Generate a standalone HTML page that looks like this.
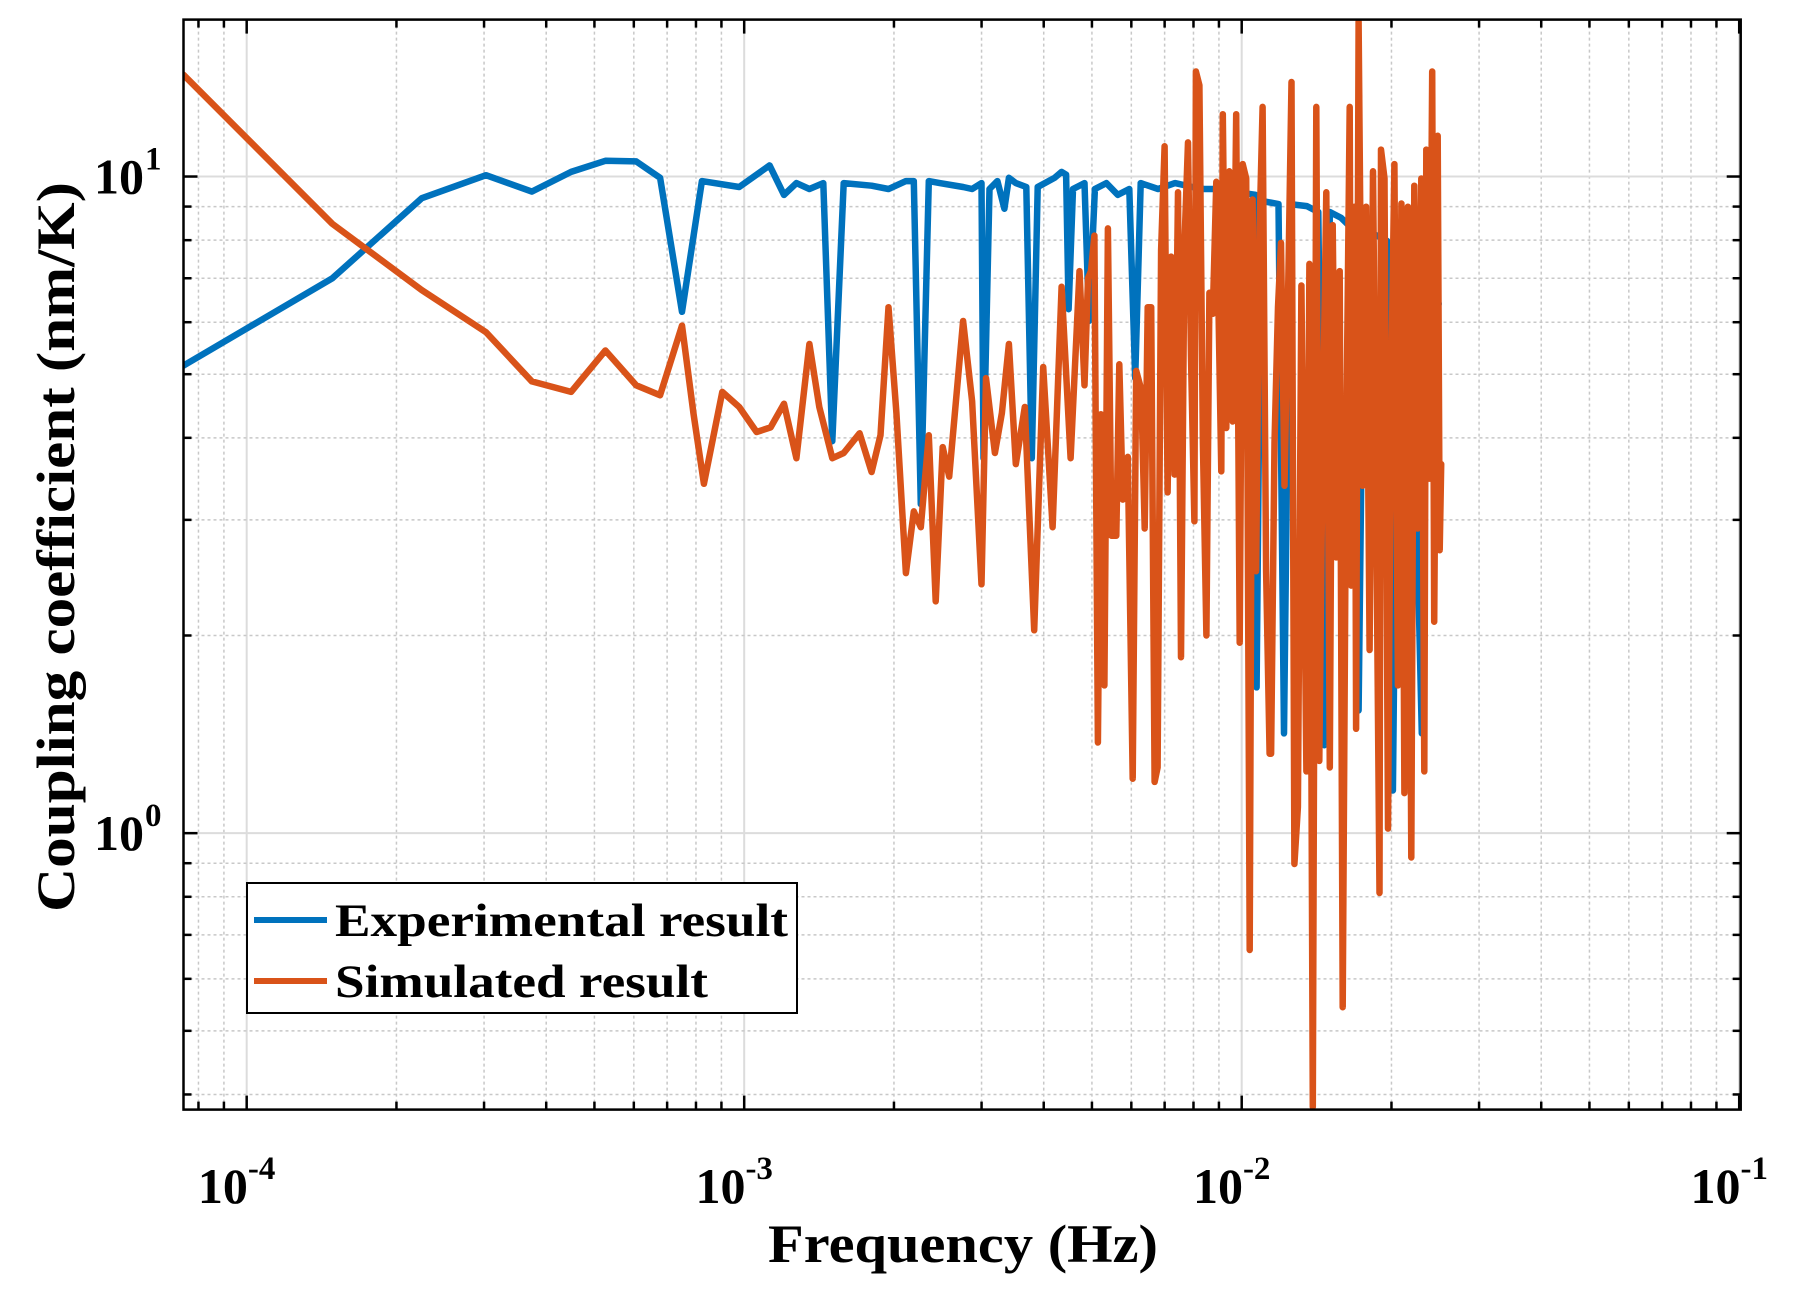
<!DOCTYPE html>
<html><head><meta charset="utf-8"><style>
html,body{margin:0;padding:0;background:#fff;}
svg{display:block;font-family:"Liberation Serif",serif;font-weight:bold;}
</style></head>
<body>
<svg id="chart" width="1798" height="1299" viewBox="0 0 1798 1299" xmlns="http://www.w3.org/2000/svg">
<rect width="1798" height="1299" fill="#fff"/>
<g id="grid"></g>
<g id="series"></g>
<g id="axes"></g>
<text x="963" y="1262" font-size="54" text-anchor="middle" textLength="390" lengthAdjust="spacingAndGlyphs">Frequency (Hz)</text>
<text transform="translate(74,547) rotate(-90)" font-size="54" text-anchor="middle" textLength="730" lengthAdjust="spacingAndGlyphs">Coupling coefficient (nm/K)</text>
<g>
<rect x="247" y="883" width="550" height="130" fill="#fff" stroke="#000" stroke-width="2"/>
<line x1="254" y1="920" x2="327" y2="920" stroke="#0072BD" stroke-width="6"/>
<text x="335" y="936" font-size="47" textLength="453" lengthAdjust="spacingAndGlyphs">Experimental result</text>
<line x1="254" y1="981" x2="327" y2="981" stroke="#D95319" stroke-width="6"/>
<text x="335" y="997" font-size="47" textLength="373" lengthAdjust="spacingAndGlyphs">Simulated result</text>
</g>
</svg>
<script>
// data stored as log10(frequency in Hz) and log10(coupling coefficient in nm/K)
const expLogFreq=[-4.127,-3.828,-3.648,-3.519,-3.427,-3.348,-3.279,-3.217,-3.169,-3.125,-3.085,-3.010,-2.949,-2.920,-2.895,-2.869,-2.841,-2.823,-2.800,-2.744,-2.710,-2.675,-2.659,-2.645,-2.629,-2.607,-2.560,-2.542,-2.523,-2.519,-2.507,-2.491,-2.477,-2.468,-2.454,-2.433,-2.422,-2.410,-2.376,-2.362,-2.353,-2.348,-2.339,-2.316,-2.307,-2.295,-2.272,-2.249,-2.226,-2.214,-2.203,-2.168,-2.134,-2.099,-2.076,-2.030,-2.007,-1.972,-1.970,-1.961,-1.926,-1.915,-1.903,-1.869,-1.846,-1.834,-1.823,-1.800,-1.777,-1.765,-1.754,-1.731,-1.708,-1.696,-1.685,-1.661,-1.638,-1.627,-1.604];
const expLogVal=[0.712,0.845,0.967,1.002,0.977,1.007,1.024,1.023,0.998,0.794,0.993,0.984,1.017,0.972,0.990,0.981,0.990,0.597,0.990,0.986,0.981,0.993,0.993,0.501,0.993,0.990,0.984,0.981,0.990,0.571,0.981,0.993,0.951,0.998,0.990,0.984,0.571,0.984,0.998,1.007,1.003,0.798,0.981,0.990,0.780,0.981,0.990,0.972,0.981,0.693,0.990,0.981,0.990,0.984,0.981,0.981,0.976,0.972,0.222,0.963,0.958,0.152,0.958,0.955,0.946,0.134,0.946,0.937,0.920,0.187,0.920,0.911,0.902,0.065,0.885,0.894,0.152,0.867,0.806];
const simLogFreq=[-4.127,-3.828,-3.648,-3.519,-3.427,-3.348,-3.279,-3.217,-3.169,-3.125,-3.102,-3.081,-3.044,-3.010,-2.975,-2.947,-2.920,-2.895,-2.869,-2.849,-2.823,-2.800,-2.768,-2.744,-2.726,-2.710,-2.694,-2.675,-2.659,-2.645,-2.629,-2.615,-2.601,-2.588,-2.560,-2.542,-2.523,-2.514,-2.496,-2.482,-2.468,-2.454,-2.436,-2.417,-2.399,-2.380,-2.362,-2.344,
-2.326,-2.316,-2.309,-2.303,-2.296,-2.289,-2.283,-2.276,-2.269,-2.262,-2.252,-2.246,-2.239,-2.229,-2.219,-2.212,-2.202,-2.195,-2.189,-2.182,-2.175,-2.169,-2.162,-2.155,-2.149,-2.142,-2.135,-2.128,-2.122,-2.115,-2.108,-2.102,-2.095,-2.092,-2.085,-2.078,-2.071,-2.065,-2.058,-2.051,-2.041,-2.038,-2.031,-2.025,-2.018,-2.011,-2.004,-1.998,-1.991,-1.984,-1.978,-1.971,-1.964,-1.958,-1.951,
-1.944,-1.941,-1.934,-1.927,-1.921,-1.914,-1.907,-1.900,-1.894,-1.887,-1.880,-1.870,-1.864,-1.857,-1.850,-1.844,-1.837,-1.830,-1.823,-1.817,-1.810,-1.803,-1.797,-1.790,-1.783,-1.780,-1.773,-1.770,-1.765,-1.757,-1.750,-1.743,-1.736,-1.730,-1.723,-1.720,-1.713,-1.706,-1.700,-1.693,-1.686,-1.679,-1.673,-1.666,-1.659,-1.653,-1.646,-1.639,-1.633,-1.629,-1.623,-1.617,-1.613,-1.606,-1.602,-1.599];
const simLogVal=[1.155,0.928,0.827,0.763,0.688,0.672,0.735,0.682,0.667,0.773,0.640,0.532,0.672,0.649,0.611,0.618,0.654,0.571,0.745,0.649,0.571,0.579,0.609,0.550,0.606,0.801,0.640,0.396,0.490,0.466,0.606,0.353,0.588,0.543,0.780,0.658,0.379,0.693,0.579,0.640,0.745,0.562,0.649,0.309,0.710,0.466,0.832,0.571,
0.856,0.682,0.845,0.856,0.910,0.138,0.638,0.225,0.921,0.453,0.453,0.714,0.508,0.573,0.083,0.704,0.676,0.464,0.801,0.801,0.078,0.100,0.888,1.046,0.519,0.878,0.546,0.976,0.268,0.899,1.052,0.725,0.475,1.160,1.139,0.595,0.301,0.823,0.791,0.992,0.551,1.095,0.617,1.008,0.627,1.095,0.290,1.019,0.997,-0.178,0.965,0.399,0.921,1.106,0.399,
0.121,0.121,0.595,0.801,0.899,0.529,0.812,1.144,-0.047,0.040,0.834,0.094,0.867,-0.417,1.106,0.110,0.617,0.976,0.100,0.926,0.420,0.856,-0.265,0.595,1.106,0.377,0.954,0.159,1.236,0.529,0.954,0.279,1.008,0.529,-0.091,1.041,0.997,0.007,0.660,1.019,0.225,0.959,0.061,0.954,-0.037,0.986,0.464,0.997,0.094,1.041,0.540,1.160,0.322,1.062,0.431,0.562];
const xTickExp=[-4,-3,-2,-1];
const yTickExp=[0,1];

const NS="http://www.w3.org/2000/svg";
const L=183.5,R=1740.7,T=19.6,B=1109.6;
const xMin=-4.127,xMax=-0.997,yMin=-0.421,yMax=1.239;
function sx(lf){return L+(lf-xMin)/(xMax-xMin)*(R-L);}
function sy(lv){return B-(lv-yMin)/(yMax-yMin)*(B-T);}
function mk(tag,attrs,parent){const e=document.createElementNS(NS,tag);for(const k in attrs)e.setAttribute(k,attrs[k]);parent.appendChild(e);return e;}
const grid=document.getElementById('grid'),axes=document.getElementById('axes'),series=document.getElementById('series');

for(let d=-5;d<=-1;d++){for(let m=1;m<10;m++){const lf=d+Math.log10(m);if(lf<xMin||lf>xMax)continue;const x=sx(lf);
 const g=mk('line',{x1:x,y1:T,x2:x,y2:B,stroke:m===1?'#dcdcdc':'#c8c8c8','stroke-width':m===1?2:1.5,'stroke-dasharray':m===1?'none':'3,3'},grid);
 
 
 const len=m===1?14:8;
 const t1=mk('line',{x1:x,y1:B,x2:x,y2:B-len,stroke:'#000','stroke-width':2.5},axes);
 
 
 const t2=mk('line',{x1:x,y1:T,x2:x,y2:T+len,stroke:'#000','stroke-width':2.5},axes);
 
 
}}
for(let d=-1;d<=1;d++){for(let m=1;m<10;m++){const lv=d+Math.log10(m);if(lv<yMin||lv>yMax)continue;const y=sy(lv);
 const g=mk('line',{x1:L,y1:y,x2:R,y2:y,stroke:m===1?'#dcdcdc':'#c8c8c8','stroke-width':m===1?2:1.5,'stroke-dasharray':m===1?'none':'3,3'},grid);
 
 
 const len=m===1?14:8;
 const t1=mk('line',{x1:L,y1:y,x2:L+len,y2:y,stroke:'#000','stroke-width':2.5},axes);
 
 
 const t2=mk('line',{x1:R,y1:y,x2:R-len,y2:y,stroke:'#000','stroke-width':2.5},axes);
 
 
}}
const frame=mk('rect',{x:L,y:T,width:R-L,height:B-T,fill:'none',stroke:'#000','stroke-width':2.5},axes);



xTickExp.forEach(e=>{const x=sx(e);
 const t=mk('text',{x:x-10,y:1203,'font-size':50,'text-anchor':'middle'},axes);
 
 
 t.textContent='10';
 const s=mk('tspan',{dy:-24,'font-size':33},t);s.textContent=String(e);
});
yTickExp.forEach(e=>{const y=sy(e);
 const t=mk('text',{x:144,y:y+17,'font-size':50,'text-anchor':'end'},axes);
 
 
 t.textContent='10';
 const s=mk('tspan',{x:145,dy:-24,'font-size':33,'text-anchor':'start'},t);s.textContent=String(e);
});

function path(lfs,lvs,color,name){let d='';for(let i=0;i<lfs.length;i++){d+=(i?'L':'M')+sx(lfs[i]).toFixed(1)+','+sy(lvs[i]).toFixed(1);}
 const p=mk('path',{d:d,fill:'none',stroke:color,'stroke-width':6.5,'stroke-linejoin':'round','stroke-linecap':'round'},series);
 
 
}
const clip=mk('clipPath',{id:'pc'},document.getElementById('chart'));
mk('rect',{x:L,y:T,width:R-L,height:B-T},clip);
series.setAttribute('clip-path','url(#pc)');
path(expLogFreq,expLogVal,'#0072BD','experimental-line');
path(simLogFreq,simLogVal,'#D95319','simulated-line');
</script>
</body></html>
